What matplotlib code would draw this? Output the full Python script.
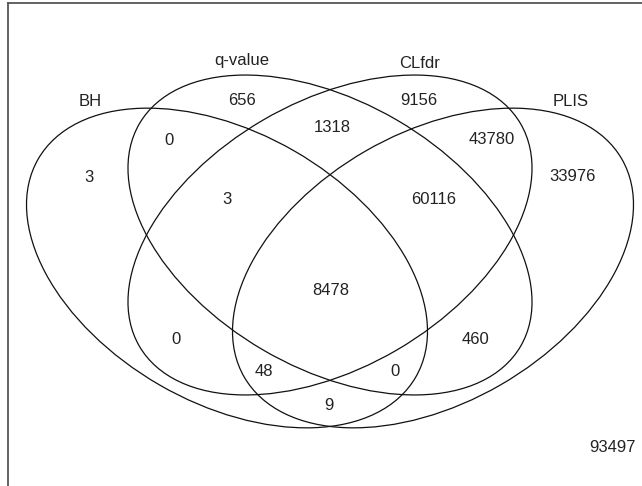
import matplotlib
matplotlib.use("Agg")
import matplotlib.pyplot as plt
from matplotlib.patches import Ellipse
from matplotlib.lines import Line2D

# ---------- data ----------
set_names = ["BH", "q-value", "CLfdr", "PLIS"]
# region membership (BH, q, CLfdr, PLIS) and counts
regions = ["1000", "0100", "0010", "0001",
           "1100", "0110", "0011", "1001", "1010", "0101",
           "1110", "0111", "1011", "1101", "1111", "0000"]
counts = [3, 656, 9156, 33976,
          0, 1318, 43780, 9, 0, 460,
          3, 60116, 48, 0, 8478, 93497]

# ---------- layout (pixel coords, y downward) ----------
W, H = 642, 486
ell_centers = [(227, 268), (330, 235), (330, 235), (433, 268)]
ell_angles = [30, 30.3, -30.3, -30]
ell_axes = [(218, 135), (220.7, 133), (220.7, 133), (218, 135)]

name_pos = [(90, 101), (242, 60), (420, 64), (571, 101)]
count_pos = {"1000": (89, 177), "0100": (242, 100), "0010": (419, 100), "0001": (572, 176),
             "1100": (169, 140), "0110": (332, 127), "0011": (492, 139), "1001": (329, 405),
             "1010": (176, 339), "0101": (476, 339),
             "1110": (227, 199), "0111": (434, 199), "1011": (264, 371), "1101": (395, 371),
             "1111": (331, 290), "0000": (612, 447)}

plt.rcParams['font.family'] = ['Liberation Sans', 'DejaVu Sans']

fig = plt.figure(figsize=(W / 100, H / 100), dpi=100)
ax = fig.add_axes([0, 0, 1, 1])
ax.set_xlim(0, W)
ax.set_ylim(H, 0)
ax.axis('off')

# partial frame (left + top)
ax.add_line(Line2D([8, 8], [H, 3], color='#555555', lw=1.3))
ax.add_line(Line2D([8, W], [3, 3], color='#555555', lw=1.3))

for (cx, cy), ang, (a, b) in zip(ell_centers, ell_angles, ell_axes):
    ax.add_patch(Ellipse((cx, cy), 2 * a, 2 * b, angle=ang,
                         fill=False, edgecolor='#111111', lw=0.9))

for name, (x, y) in zip(set_names, name_pos):
    ax.text(x, y, name, ha='center', va='center', fontsize=12, color='#222222')

for reg, c in zip(regions, counts):
    x, y = count_pos[reg]
    ax.text(x, y, str(c), ha='center', va='center', fontsize=12, color='#222222')

fig.savefig("out.png", dpi=100, facecolor='white')
